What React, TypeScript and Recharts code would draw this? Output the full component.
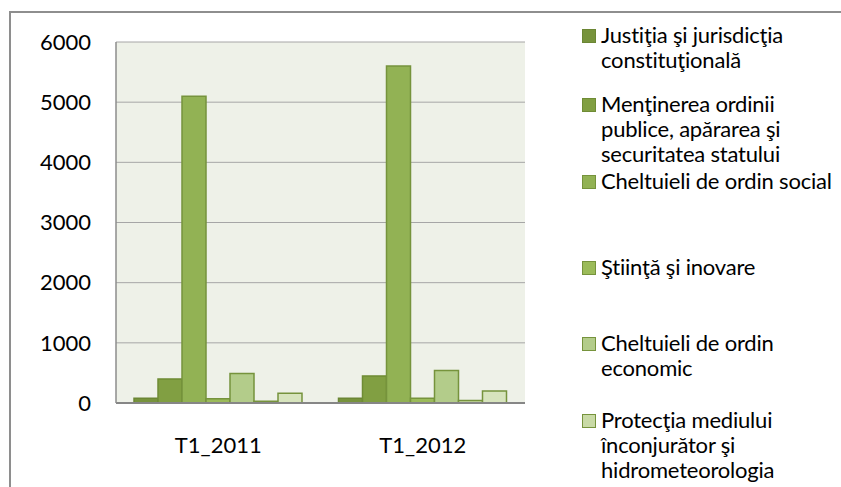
import { Bar, BarChart, CartesianGrid, XAxis, YAxis } from "recharts"

// Quarter labels
const periods = ["T1_2011", "T1_2012"]

// Expenditure by function
const justitie = [80, 80]
const ordinePublica = [400, 450]
const social = [5100, 5600]
const stiinta = [70, 80]
const economic = [490, 540]
const mediu = [30, 40]
const alte = [160, 200]

const seriesNames = [
  "Justiţia şi jurisdicţia constituţională",
  "Menţinerea ordinii publice, apărarea şi securitatea statului",
  "Cheltuieli de ordin social",
  "Ştiinţă şi inovare",
  "Cheltuieli de ordin economic",
  "Protecţia mediului înconjurător şi hidrometeorologia",
  "Alte cheltuieli",
]

// legend text as it is wrapped in the original
const legendLines = [
  ["Justiţia şi jurisdicţia", "constituţională"],
  ["Menţinerea ordinii", "publice, apărarea şi", "securitatea statului"],
  ["Cheltuieli de ordin social"],
  ["Ştiinţă şi inovare"],
  ["Cheltuieli de ordin", "economic"],
  ["Protecţia mediului", "înconjurător şi", "hidrometeorologia"],
]

const yTicks = [0, 1000, 2000, 3000, 4000, 5000, 6000]

const seriesValues = [justitie, ordinePublica, social, stiinta, economic, mediu, alte]
const keys = ["s1", "s2", "s3", "s4", "s5", "s6", "s7"]

const fills = ["#77933C", "#819F42", "#92B254", "#9BBB59", "#B3CC8A", "#C9DAA6", "#D7E4BD"]
const strokes = ["#6B8634", "#6F8C35", "#76933C", "#76933C", "#76933C", "#76933C", "#76933C"]

// vertical slot of each legend entry (y of first text line, page px)
const legendTops = [22, 91, 168, 254, 330, 407]

const data = periods.map((p, i) => {
  const row: Record<string, string | number> = { period: p }
  keys.forEach((k, j) => {
    row[k] = seriesValues[j][i]
  })
  return row
})

const FONT = "Lato, 'Noto Sans', sans-serif"

function SideLegend() {
  return (
    <div style={{ position: "absolute", left: 582, top: 0, width: 259, height: 487 }}>
      {legendLines.map((lines, i) => (
        <div
          key={i}
          style={{
            position: "absolute",
            left: 0,
            top: legendTops[i],
            display: "flex",
            alignItems: "flex-start",
          }}
        >
          <div
            style={{
              width: 12,
              height: 12,
              marginTop: 7,
              marginRight: 5,
              background: fills[i],
              border: `1px solid ${strokes[i]}`,
              flexShrink: 0,
            }}
          />
          <div
            style={{
              fontFamily: FONT,
              fontSize: 22,
              lineHeight: "25px",
              color: "#000",
              whiteSpace: "nowrap",
              letterSpacing: "-0.2px",
            }}
          >
            {lines.map((l, j) => (
              <div key={j}>{l}</div>
            ))}
          </div>
        </div>
      ))}
    </div>
  )
}

export default function App() {
  return (
    <div
      style={{
        position: "absolute",
        left: 0,
        top: 0,
        width: 841,
        height: 487,
        background: "#fff",
        overflow: "hidden",
      }}
    >
      {/* outer chart frame */}
      <div
        style={{
          position: "absolute",
          left: 9,
          top: 11,
          width: 840,
          height: 480,
          borderLeft: "2px solid #8E8E8E",
          borderTop: "2px solid #8E8E8E",
        }}
      />
      <BarChart
        width={841}
        height={487}
        data={data}
        margin={{ top: 42, right: 316, bottom: 24, left: 0 }}
        barCategoryGap={18}
        barGap={0}
        style={{ position: "absolute", left: 0, top: 0 }}
      >
        <CartesianGrid vertical={false} stroke="#A6A6A6" fill="#EEF1E8" />
        <XAxis
          dataKey="period"
          height={60}
          axisLine={{ stroke: "#868686", strokeWidth: 2 }}
          tickLine={false}
          tickSize={0}
          tickMargin={34}
          interval={0}
          tick={{ fill: "#000", fontSize: 22, fontFamily: FONT }}
        />
        <YAxis
          width={116}
          domain={[0, 6000]}
          ticks={yTicks}
          interval={0}
          axisLine={{ stroke: "#8C8C8C", strokeWidth: 1.5 }}
          tickLine={false}
          tickSize={0}
          tickMargin={25}
          tick={{ fill: "#000", fontSize: 22, fontFamily: FONT }}
        />
        {keys.map((k, j) => (
          <Bar
            key={k}
            dataKey={k}
            name={seriesNames[j]}
            fill={fills[j]}
            stroke={strokes[j]}
            strokeWidth={1.5}
            isAnimationActive={false}
          />
        ))}
      </BarChart>
      <SideLegend />
    </div>
  )
}
